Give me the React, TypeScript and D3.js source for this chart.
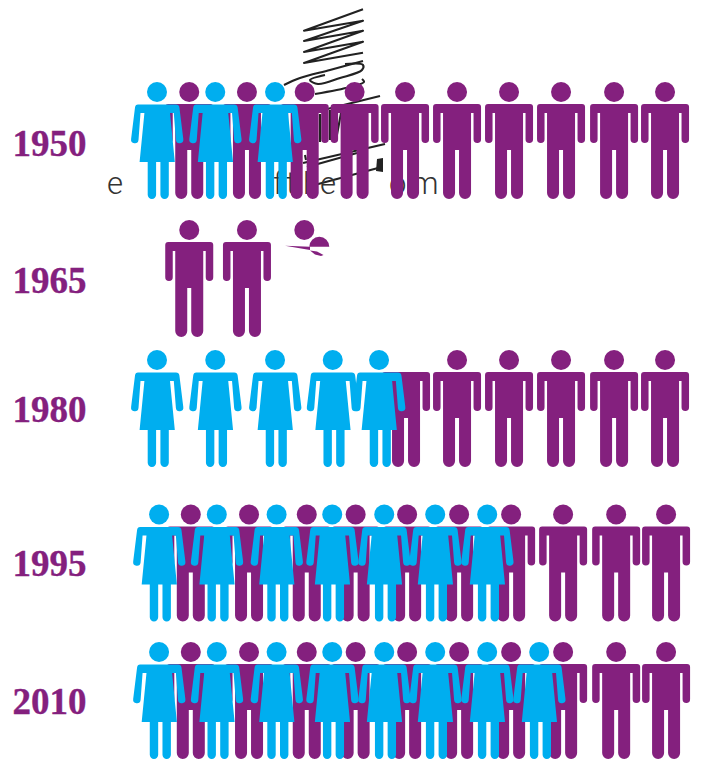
import React from "react";
import * as d3 from "d3";

const years = [1950, 1965, 1980, 1995, 2010];
const yearLabels = ["1950", "1965", "1980", "1995", "2010"];

// People counted in slot units along each row
const men1950 = [0.62, 1.73, 2.84, 3.8, 4.77, 5.77, 6.77, 7.77, 8.79, 9.77];
const women1950 = [0, 1.12, 2.27];
const men1965 = [0.62, 1.73];
const men1980 = [5.77, 6.77, 7.77, 8.79, 9.77];
const headlessMen1980 = [4.77];
const women1980 = [0, 1.12, 2.27, 3.38, 4.27];
const men1995 = [0.65, 1.77, 2.88, 3.82, 4.81, 5.81, 6.81, 7.81, 8.83, 9.79];
const women1995 = [0.04, 1.15, 2.3, 3.37, 4.37, 5.35, 6.35];
const men2010 = [0.65, 1.77, 2.88, 3.82, 4.81, 5.81, 6.81, 7.81, 8.83, 9.79];
const women2010 = [0.04, 1.15, 2.3, 3.37, 4.37, 5.35, 6.35, 7.35];

const rows = [
  { year: 1950, men: men1950, headless: [] as number[], women: women1950 },
  { year: 1965, men: men1965, headless: [] as number[], women: [] as number[] },
  { year: 1980, men: men1980, headless: headlessMen1980, women: women1980 },
  { year: 1995, men: men1995, headless: [] as number[], women: women1995 },
  { year: 2010, men: men2010, headless: [] as number[], women: women2010 },
];

const PURPLE = "#84207E";
const CYAN = "#00AEEF";
const INK = "#222222";

const xSlot = d3.scaleLinear().domain([0, 10]).range([157, 677]);
const yHead = d3.scaleLinear().domain(years).range([92, 230, 360, 514.5, 652]);
const yLabel = d3.scaleLinear().domain(years).range([156, 293, 422, 576, 714]);

const manBody = [
  "M-21,12 L21,12 Q24,12 24,15 L24,47.3 A3.75,3.75 0 0 1 16.5,47.3 L16.5,21 L14,21 L14,101",
  "A6,6 0 0 1 2,101 L2,58 L-2,58 L-2,101 A6,6 0 0 1 -14,101 L-14,21 L-16.5,21 L-16.5,47.3",
  "A3.75,3.75 0 0 1 -24,47.3 L-24,15 Q-24,12 -21,12 Z",
].join(" ");

const womanBody = [
  "M-19,12.5 L19,12.5 Q22,12.5 22.4,15.5 L26.3,47 A3.7,3.7 0 0 1 18.9,48 L16.8,21 L13,21 L17.8,70",
  "L11.8,70 L11.8,102.8 A4.2,4.2 0 0 1 3.4,102.8 L3.4,70 L-0.9,70 L-0.9,102.8 A4.2,4.2 0 0 1 -9.3,102.8",
  "L-9.3,70 L-17.4,70 L-12.6,21 L-16.5,21 L-18.5,48 A3.7,3.7 0 0 1 -25.9,47 L-22,15.5 Q-21.7,12.5 -19,12.5 Z",
].join(" ");

type P = [number, number];

// Stray fragments of the damaged artwork
const scribbleZigzag: P[] = [
  [363, 9.3], [304, 30.7], [363, 20.7], [304, 41], [363, 30.7], [304, 52], [363, 41.7], [304, 63], [363, 52.7],
];
const scribbleCurves: P[][] = [
  [[363, 61], [330, 70], [300, 78], [284, 85]],
  [[345, 64], [363, 65], [362, 70], [340, 78], [318, 84], [310, 80], [325, 75]],
  [[362, 79], [364, 82], [350, 87], [315, 94]],
];
const scribbleLines: P[][] = [
  [[380, 96], [307, 114]],
  [[385, 144], [303, 163]],
  [[357, 153], [307, 167]],
  [[378, 168], [307, 187]],
  [[320, 114], [320, 142]],
  [[330, 110], [330, 140]],
  [[341, 113], [336, 140]],
  [[305, 155], [306, 160]],
];
const scribbleBlock: P[] = [[377, 159], [383, 158], [383, 172], [376, 171]];
const fragmentSliver: P[] = [[285, 245.8], [310, 246.7], [310, 250]];
const fragmentBlob: P[] = [[310, 250.5], [317, 251.5], [323.5, 255], [321, 256], [315, 254.5]];
const fragmentHead: P = [304.3, 230];
const fragmentCapCentre: P = [319.3, 246.7];

const strayLetters = [
  { text: "e", x: 107 },
  { text: "f", x: 273 },
  { text: "t", x: 286 },
  { text: "he", x: 303 },
  { text: "o", x: 389 },
  { text: "m", x: 411 },
];

const polyLine = d3.line<P>();
const smoothLine = d3.line<P>().curve(d3.curveCatmullRom);
const closed = (pts: P[]) => (polyLine(pts) ?? "") + "Z";
const capArc = d3.arc()({
  innerRadius: 0,
  outerRadius: 10,
  startAngle: -Math.PI / 2,
  endAngle: Math.PI / 2,
}) as string;

function Man({ cx, hy, head = true }: { cx: number; hy: number; head?: boolean }) {
  return (
    <g transform={`translate(${cx},${hy})`} fill={PURPLE}>
      {head && <circle r={10} />}
      <path d={manBody} />
    </g>
  );
}

function Woman({ cx, hy }: { cx: number; hy: number }) {
  return (
    <g transform={`translate(${cx},${hy})`} fill={CYAN}>
      <circle r={10} />
      <path d={womanBody} />
    </g>
  );
}

export default function App() {
  return (
    <svg
      width={702}
      height={760}
      viewBox="0 0 702 760"
      style={{ position: "absolute", left: 0, top: 0, display: "block", background: "#fff" }}
    >
      <g fill="none" stroke={INK} strokeWidth={2.1} strokeLinejoin="round">
        <path d={polyLine(scribbleZigzag) ?? ""} />
        {scribbleCurves.map((c, i) => (
          <path key={i} d={smoothLine(c) ?? ""} />
        ))}
        {scribbleLines.map((c, i) => (
          <path key={i} d={polyLine(c) ?? ""} />
        ))}
      </g>
      <path d={closed(scribbleBlock)} fill={INK} />

      <g fontFamily="Roboto, 'Liberation Sans', sans-serif" fontWeight={300} fontSize={31} fill="#333">
        {strayLetters.map((l) => (
          <text key={l.text} x={l.x} y={193.5}>
            {l.text}
          </text>
        ))}
      </g>

      {rows.map((r) => (
        <g key={r.year}>
          {r.men.map((m, i) => (
            <Man key={i} cx={xSlot(m)} hy={yHead(r.year)} />
          ))}
          {r.headless.map((m, i) => (
            <Man key={i} cx={xSlot(m) + 1} hy={yHead(r.year)} head={false} />
          ))}
          {r.women.map((w, i) => (
            <Woman key={i} cx={xSlot(w)} hy={yHead(r.year)} />
          ))}
        </g>
      ))}

      <g fill={PURPLE}>
        <circle cx={fragmentHead[0]} cy={fragmentHead[1]} r={10} />
        <path d={capArc} transform={`translate(${fragmentCapCentre[0]},${fragmentCapCentre[1]})`} />
        <path d={closed(fragmentSliver)} />
        <path d={closed(fragmentBlob)} />
      </g>

      <g
        fontFamily="'Liberation Serif', serif"
        fontWeight={700}
        fontSize={37}
        fill={PURPLE}
        stroke={PURPLE}
        strokeWidth={0.35}
      >
        {years.map((y, i) => (
          <text key={y} x={12.5} y={yLabel(y)}>
            {yearLabels[i]}
          </text>
        ))}
      </g>
    </svg>
  );
}
